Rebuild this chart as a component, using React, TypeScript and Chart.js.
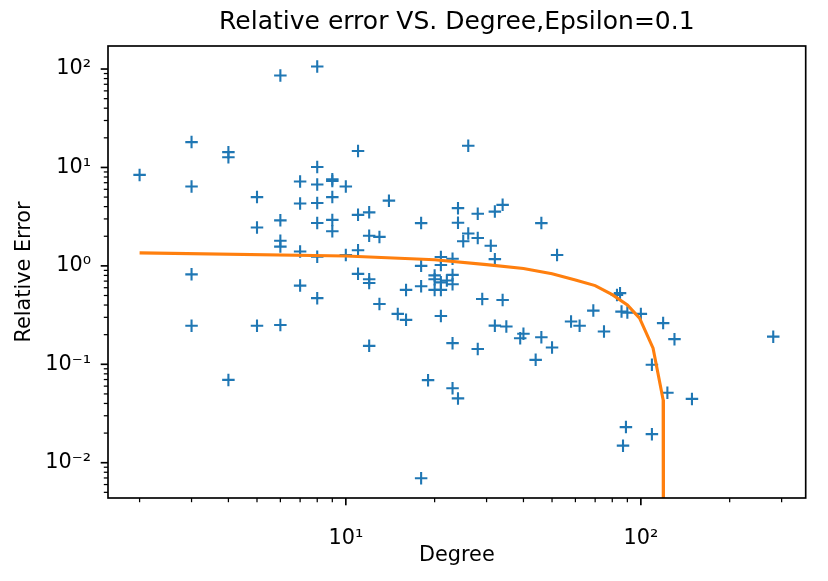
import React, { useEffect, useRef } from "react";
import { Chart, registerables } from "chart.js";

Chart.register(...registerables);

// Scatter data: degree and relative error (parallel arrays)
const degrees = [
  2,
  3, 3, 3, 3,
  4, 4, 4,
  5, 5, 5,
  6, 6, 6, 6, 6,
  7, 7, 7, 7,
  8, 8, 8, 8, 8, 8, 8,
  9, 9, 9, 9, 9,
  10, 10,
  11, 11, 11, 11,
  12, 12, 12, 12, 12,
  13, 13,
  14,
  15,
  16, 16,
  18, 18, 18, 18,
  19,
  20, 20, 20,
  21, 21, 21, 21, 21,
  22,
  23, 23, 23, 23, 23,
  24, 24, 24,
  25,
  26, 26,
  28, 28, 28,
  29,
  31,
  32, 32, 32,
  34, 34,
  35, 39, 40, 44,
  46, 46,
  50, 52, 58, 62, 69, 75, 83, 85, 86, 87, 89, 90, 100,
  109, 109,
  119, 123, 130, 149, 281,
];
const errors = [
  8.4,
  18.1, 6.4, 0.82, 0.246,
  14.3, 12.7, 0.0694,
  5.0, 2.45, 0.246,
  86, 2.9, 1.8, 1.57, 0.251,
  7.2, 4.3, 1.4, 0.63,
  106, 10.1, 6.7, 4.35, 2.73, 1.24, 0.47,
  7.6, 7.3, 5.0, 2.93, 2.25,
  6.4, 1.29,
  14.7, 3.3, 1.44, 0.83,
  3.5, 2.02, 0.73, 0.67, 0.154,
  1.97, 0.41,
  4.6,
  0.325,
  0.57, 0.283,
  2.72, 1.0, 0.62, 0.00696,
  0.069,
  0.8, 0.73, 0.57,
  1.23, 1.02, 0.68, 0.57, 0.31,
  0.71,
  1.18, 0.81, 0.65, 0.164, 0.057,
  3.86, 2.74, 0.045,
  1.78,
  16.6, 2.13,
  3.38, 1.92, 0.143,
  0.46,
  1.6,
  3.56, 1.17, 0.247,
  4.17, 0.45,
  0.242, 0.184, 0.204, 0.111,
  2.72, 0.188,
  0.148, 1.29, 0.272, 0.246, 0.351, 0.215, 0.507, 0.528, 0.343, 0.0149, 0.023, 0.335, 0.325,
  0.099, 0.0195,
  0.262, 0.0514, 0.18, 0.0445, 0.191,
];

// Orange model curve
const curveDegrees = [2, 10, 20, 30, 40, 50, 60, 70, 80, 90, 99, 110, 119, 119.3];
const curveErrors = [1.355, 1.26, 1.155, 1.03, 0.94, 0.83, 0.72, 0.63, 0.51, 0.4, 0.294, 0.146, 0.0435, 0.0001];

// Axis ranges and ticks
const xRange = [1.563, 362];
const yRange = [0.00438, 171.4];
const xTickValues = [10, 100];
const yTickValues = [0.01, 0.1, 1, 10, 100];
const xDecades = [1, 10, 100];
const yDecades = [0.001, 0.01, 0.1, 1, 10, 100];

const TITLE = "Relative error VS. Degree,Epsilon=0.1";
const X_LABEL = "Degree";
const Y_LABEL = "Relative Error";

const FONT = "'DejaVu Sans', sans-serif";
const SUP: Record<string, string> = { "-": "\u207B", "0": "\u2070", "1": "\u00B9", "2": "\u00B2", "3": "\u00B3" };
const powLabel = (v: number) => {
  const e = Math.round(Math.log10(v));
  return "10" + String(e).split("").map((c) => SUP[c] || c).join("");
};

const framePlugin = {
  id: "frameTicks",
  afterDatasetsDraw(chart: any) {
    const { ctx, chartArea: a, scales } = chart;
    const xs = scales.x;
    const ys = scales.y;
    ctx.save();
    ctx.strokeStyle = "#000";
    const major = 7.3, minor = 4.2, wMaj = 1.67, wMin = 1.25;
    xDecades.forEach((d) => {
      for (let s = 1; s <= 9; s++) {
        const p = xs.getPixelForValue(s * d);
        if (p < a.left - 0.5 || p > a.right + 0.5) continue;
        ctx.lineWidth = s === 1 ? wMaj : wMin;
        ctx.beginPath();
        ctx.moveTo(p, a.bottom);
        ctx.lineTo(p, a.bottom + (s === 1 ? major : minor));
        ctx.stroke();
      }
    });
    yDecades.forEach((d) => {
      for (let s = 1; s <= 9; s++) {
        const p = ys.getPixelForValue(s * d);
        if (p < a.top - 0.5 || p > a.bottom + 0.5) continue;
        ctx.lineWidth = s === 1 ? wMaj : wMin;
        ctx.beginPath();
        ctx.moveTo(a.left, p);
        ctx.lineTo(a.left - (s === 1 ? major : minor), p);
        ctx.stroke();
      }
    });
    ctx.lineWidth = 1.67;
    ctx.strokeRect(a.left, a.top, a.right - a.left, a.bottom - a.top);
    ctx.restore();
  },
};

export default function App() {
  const ref = useRef<HTMLCanvasElement | null>(null);
  useEffect(() => {
    if (!ref.current) return;
    const chart = new Chart(ref.current, {
      type: "scatter",
      data: {
        datasets: [
          {
            label: "model",
            data: curveDegrees.map((x, i) => ({ x, y: curveErrors[i] })),
            showLine: true,
            borderColor: "#ff7f0e",
            backgroundColor: "#ff7f0e",
            borderWidth: 3.1,
            pointRadius: 0,
            tension: 0,
            order: 0,
          } as any,
          {
            label: "data",
            data: degrees.map((x, i) => ({ x, y: errors[i] })),
            pointStyle: "cross",
            pointRadius: 6.25,
            pointBorderWidth: 2.1,
            borderColor: "#1f77b4",
            backgroundColor: "#1f77b4",
            showLine: false,
            order: 1,
          } as any,
        ],
      },
      options: {
        responsive: false,
        maintainAspectRatio: false,
        animation: false,
        devicePixelRatio: 1,
        layout: { padding: { left: 0, right: 22.3, top: 0, bottom: 0 } },
        plugins: {
          legend: { display: false },
          tooltip: { enabled: false },
          title: {
            display: true,
            text: TITLE,
            fullSize: false,
            color: "#000",
            font: { family: FONT, size: 25, weight: "normal", lineHeight: 1.2 },
            padding: { top: 7.6, bottom: 8.4 },
          },
        },
        scales: {
          x: {
            type: "logarithmic",
            position: "bottom",
            min: xRange[0],
            max: xRange[1],
            grid: { display: false, drawTicks: false },
            border: { display: false },
            afterBuildTicks: (axis: any) => {
              axis.ticks = xTickValues.map((v) => ({ value: v, major: true }));
            },
            afterFit: (scale: any) => {
              scale.height = 83;
            },
            ticks: {
              autoSkip: false,
              maxRotation: 0,
              minRotation: 0,
              padding: 27.8,
              color: "#000",
              font: { family: FONT, size: 20.8 },
              callback: (v: any) => powLabel(Number(v)),
            },
            title: {
              display: true,
              text: X_LABEL,
              color: "#000",
              font: { family: FONT, size: 20.8 },
              padding: { top: 0, bottom: 13.2 },
            },
          },
          y: {
            type: "logarithmic",
            position: "left",
            min: yRange[0],
            max: yRange[1],
            grid: { display: false, drawTicks: false },
            border: { display: false },
            afterBuildTicks: (axis: any) => {
              axis.ticks = yTickValues.map((v) => ({ value: v, major: true }));
            },
            afterFit: (scale: any) => {
              scale.width = 108;
            },
            ticks: {
              autoSkip: false,
              padding: 17,
              color: "#000",
              font: { family: FONT, size: 20.8 },
              callback: (v: any) => powLabel(Number(v)),
            },
            title: {
              display: true,
              text: Y_LABEL,
              color: "#000",
              font: { family: FONT, size: 20.8 },
              padding: { top: 12, bottom: 0 },
            },
          },
        },
      },
      plugins: [framePlugin],
    });
    return () => chart.destroy();
  }, []);
  return (
    <div style={{ position: "absolute", left: 0, top: 0, width: 828, height: 581, background: "#fff" }}>
      <canvas ref={ref} width={828} height={581} style={{ width: 828, height: 581, display: "block" }} />
    </div>
  );
}
